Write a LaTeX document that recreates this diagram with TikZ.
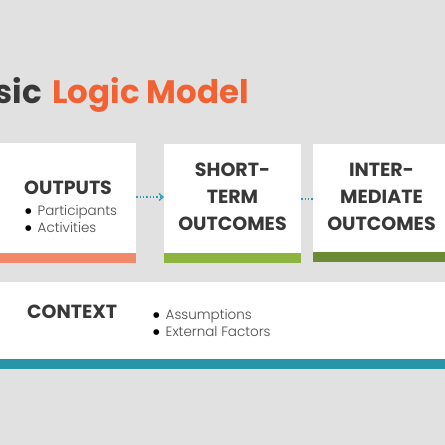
\documentclass[tikz,border=0pt]{standalone}
\usepackage{fontspec}
\setmainfont{Poppins}
\newfontfamily\poplight{Poppins Light}
\newfontfamily\dejavu{DejaVu Sans}
\usetikzlibrary{arrows.meta}
\definecolor{bg}{HTML}{E1E1E1}
\definecolor{titleorange}{HTML}{F26131}
\definecolor{darktxt}{HTML}{383838}
\definecolor{graytxt}{HTML}{4A4A4A}
\definecolor{outc}{HTML}{F0896A}
\definecolor{shortc}{HTML}{8CB43F}
\definecolor{interc}{HTML}{6A8A33}
\definecolor{ctxc}{HTML}{2795A8}
\definecolor{arrowc}{HTML}{2E9BB0}
\newcommand{\blt}{\raisebox{2.2pt}{\color{black}\dejavu\fontsize{7.5}{9}\selectfont ●}\hspace{6pt}}
\tikzset{
  card/.style={fill=white, draw=none, inner sep=0pt, anchor=north west},
  bar/.style={draw=none, inner sep=0pt, anchor=north west, minimum height=9.5},
  head/.style={font=\fontsize{19}{27}\selectfont\bfseries, text=darktxt, inner sep=0pt},
  items/.style={font=\poplight\fontsize{13.5}{17}\selectfont, text=graytxt, inner sep=0pt, align=left},
  flow/.style={draw=arrowc, line width=1.3pt, dash pattern=on 1.3pt off 2pt, -{Straight Barb[length=4pt,width=7pt,line width=1.3pt]}},
  flownotip/.style={draw=arrowc, line width=1.3pt, dash pattern=on 1.3pt off 2pt}
}
\begin{document}
\begin{tikzpicture}[x=1pt,y=-1pt]
\useasboundingbox (0,0) rectangle (445,445);
\fill[bg] (0,0) rectangle (445,445);
\clip (0,0) rectangle (445,445);
% title
\node[anchor=base east, inner sep=0pt, font=\fontsize{32.5}{36}\selectfont\bfseries, text=darktxt] (t1) at (42,103) {Basic};
\node[anchor=base west, inner sep=0pt, font=\fontsize{32.5}{36}\selectfont\bfseries, text=titleorange] (t2) at (52,103) {Logic Model};
% cards
\node[card, minimum width=146, minimum height=110] (out) at (-10,143) {};
\node[bar, fill=outc, minimum width=146] (outbar) at (-10,253) {};
\node[card, minimum width=137, minimum height=109] (sht) at (164,144) {};
\node[bar, fill=shortc, minimum width=137] (shtbar) at (164,253) {};
\node[card, minimum width=140, minimum height=108] (int) at (313,144) {};
\node[bar, fill=interc, minimum width=140] (intbar) at (313,252) {};
\node[card, minimum width=465, minimum height=77] (ctx) at (-10,282) {};
\node[bar, fill=ctxc, minimum width=465, minimum height=10] (ctxbar) at (-10,359) {};
% texts
\node[head, anchor=base west] (outt) at (24,194) {OUTPUTS};
\node[items, anchor=north west] (outi) at (25,205) {\blt Participants\\\blt Activities};
\node[head, anchor=north, align=center] (shtt) at (232.5,163) {SHORT-\\TERM\\OUTCOMES};
\node[head, anchor=north, align=center] (intt) at (381.5,163) {INTER-\\MEDIATE\\OUTCOMES};
\node[head, anchor=base west] (ctxt) at (27,318) {CONTEXT};
\node[items, anchor=north west] (ctxi) at (153,309) {\blt Assumptions\\\blt External Factors};
% connectors
\draw[flow] (out.east |- 0,197) -- (sht.west |- 0,197);
\draw[flownotip] (sht.east |- 0,199) -- (int.west |- 0,199);
\end{tikzpicture}
\end{document}
